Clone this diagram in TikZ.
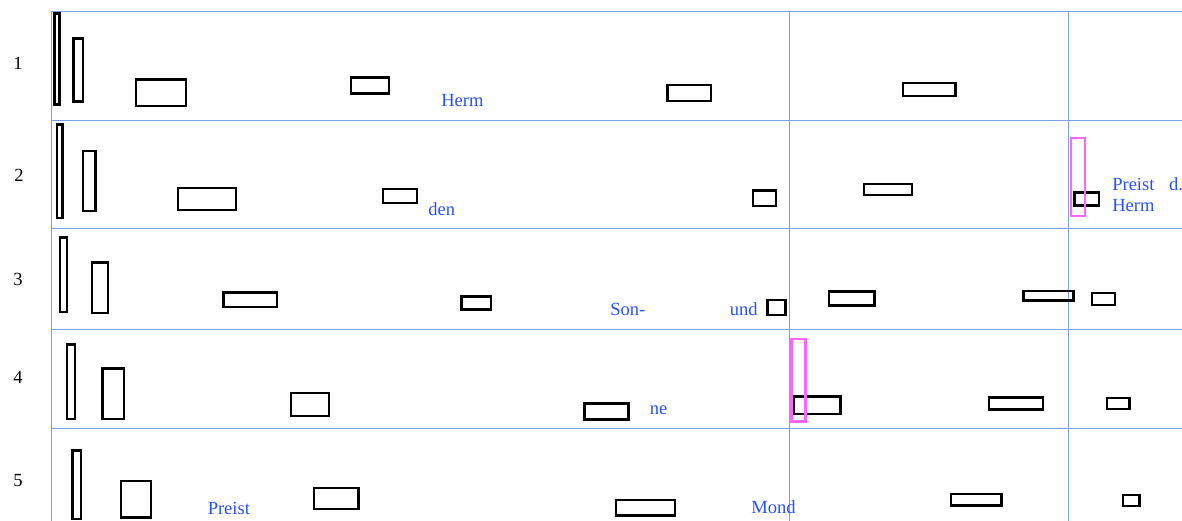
\documentclass[tikz,border=0pt]{standalone}
\usepackage{fontspec}
\setmainfont{Liberation Serif}
\usetikzlibrary{positioning}

\definecolor{gridblue}{RGB}{120,160,232}
\definecolor{wordblue}{RGB}{40,80,250}
\definecolor{markpink}{RGB}{255,100,255}

\begin{document}
\begin{tikzpicture}[
  x=0.75pt, y=-0.75pt,
  gridline/.style={draw=gridblue, line width=0.6pt},
  glyph/.style={draw=black, line width=2.1pt},
  marker/.style={draw=markpink, line width=2pt},
  rownum/.style={anchor=base west, inner sep=0pt, font=\fontsize{13.9}{16}\selectfont},
  word/.style={anchor=base west, inner sep=0pt, text=wordblue, font=\fontsize{13.9}{16}\selectfont},
]
\useasboundingbox (0,0) rectangle (1182,521);

% === Grid ===
\foreach \gy in {11,120,228,329,428}
  \draw[gridline] (51,\gy) -- (1182,\gy);
\foreach \gx in {51,789.5,1068}
  \draw[gridline] (\gx,11) -- (\gx,521);

% === Row numbers ===
\node[rownum] (n1) at (13,69) {1};
\node[rownum] (n2) at (14,181) {2};
\node[rownum] (n3) at (13,285) {3};
\node[rownum] (n4) at (13,383) {4};
\node[rownum] (n5) at (13,486.5) {5};

% === Black boxes ===
% row 1
\foreach \xa/\ya/\xb/\yb in {54.5/13.5/59.5/104.5, 73.5/38.5/83/101.5, 136/79.5/186/106,
    351/77.5/389/93.5, 667.5/85/711/101, 903/83/955.5/96}
  \draw[glyph] (\xa,\ya) rectangle (\xb,\yb);
% row 2
\foreach \xa/\ya/\xb/\yb in {57/124.5/62.5/218, 83/151/95.5/211, 178/188/236/210,
    383/189/417/203, 753/190.5/776/206, 864/184/912/195, 1074.5/192.5/1099/205.5}
  \draw[glyph] (\xa,\ya) rectangle (\xb,\yb);
% row 3
\foreach \xa/\ya/\xb/\yb in {60/237.5/67/312, 92/262.5/108/313, 223.5/292.5/277/307,
    461.5/296.5/491/309.5, 767.5/300/785.5/315, 829/291.5/874.5/305.5,
    1023.5/291/1073.5/300.5, 1092/293/1115/305}
  \draw[glyph] (\xa,\ya) rectangle (\xb,\yb);
% row 4
\foreach \xa/\ya/\xb/\yb in {67/344.5/75/419, 102.5/368.5/124/419, 291/393/329/416,
    584.5/403.5/628.5/419.5, 793.5/396.5/840.5/414, 989/397.5/1043/409.5,
    1107/398/1129.5/409}
  \draw[glyph] (\xa,\ya) rectangle (\xb,\yb);
% row 5
\foreach \xa/\ya/\xb/\yb in {72.5/450.5/81/519, 121/481/151/517.5, 314/488/358.5/509,
    616/500/675/515.5, 951/494/1001.5/505.5, 1123/495/1139.5/506}
  \draw[glyph] (\xa,\ya) rectangle (\xb,\yb);

% === Pink markers ===
\draw[marker] (1071,138) rectangle (1085,216);
\draw[marker] (791.5,339) rectangle (805.5,421.5);

% === Words ===
\node[word] (herm)   at (441,106)   {Herm};
\node[word] (den)    at (428,215)   {den};
\node[word] (preist) at (1112,190)  {Preist\hspace{11pt}d.};
\node[word] (hermb)  at (1112,211)  {Herm};
\node[word] (son)    at (610,315)   {Son-};
\node[word] (und)    at (729.5,315) {und};
\node[word] (ne)     at (649.5,414) {ne};
\node[word] (preistb) at (207.5,514) {Preist};
\node[word] (mond)   at (751,513.5) {Mond};

\end{tikzpicture}
\end{document}
